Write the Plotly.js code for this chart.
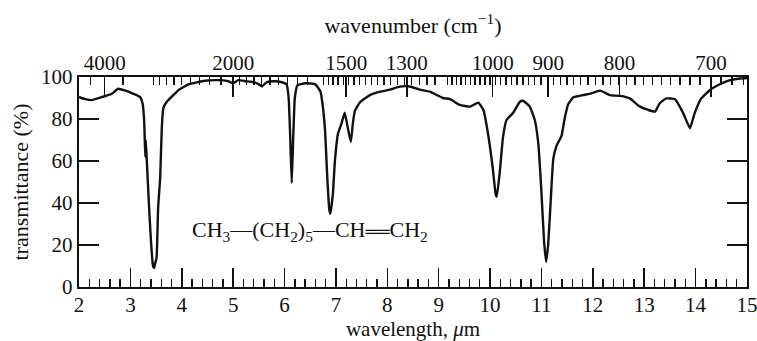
<!DOCTYPE html>
<html>
<head>
<meta charset="utf-8">
<script src="https://cdn.plot.ly/plotly-3.0.1.min.js"></script>
<style>
  html, body { margin: 0; padding: 0; background: #fff; }
  #chart { width: 757px; height: 341px; }
</style>
</head>
<body>
<div id="chart"></div>
<script>
// ---- data (1-octene IR) ----
const wavelength = [2.00, 2.05, 2.12, 2.25, 2.44, 2.64, 2.76, 2.89, 3.06, 3.19, 3.24, 3.27, 3.29, 3.30, 3.32, 3.36, 3.40, 3.44, 3.46, 3.48, 3.51, 3.54, 3.58, 3.61, 3.64, 3.70, 3.80, 3.93, 4.13, 4.45, 4.70, 4.90, 5.00, 5.10, 5.25, 5.40, 5.50, 5.56, 5.65, 5.80, 5.95, 6.04, 6.08, 6.11, 6.14, 6.17, 6.20, 6.25, 6.40, 6.60, 6.70, 6.75, 6.79, 6.83, 6.87, 6.89, 6.94, 6.98, 7.04, 7.11, 7.17, 7.23, 7.29, 7.33, 7.37, 7.47, 7.66, 7.86, 8.05, 8.24, 8.44, 8.63, 8.83, 9.08, 9.22, 9.41, 9.61, 9.77, 9.87, 9.96, 10.05, 10.11, 10.13, 10.19, 10.25, 10.32, 10.45, 10.58, 10.64, 10.77, 10.87, 10.94, 11.00, 11.05, 11.09, 11.13, 11.18, 11.23, 11.29, 11.39, 11.45, 11.52, 11.62, 11.81, 11.97, 12.14, 12.33, 12.53, 12.72, 12.91, 13.08, 13.21, 13.30, 13.43, 13.60, 13.76, 13.89, 13.98, 14.11, 14.28, 14.44, 14.64, 14.86, 15.00];
const transmittance = [90.5, 90, 89.5, 89, 90.4, 92, 94.4, 93.6, 92, 90.4, 87, 78, 62, 70, 60, 40, 22, 10, 9, 11, 14, 38, 52, 75, 85, 88, 90.5, 93.6, 96.5, 98.2, 98.5, 98, 97, 98.5, 98, 97.5, 96.5, 95.5, 97.5, 98, 97.5, 96.5, 90, 72, 49.5, 72, 90, 96, 97, 96.5, 93, 85, 74, 53, 37, 35, 44, 60, 73, 78, 83, 76, 69, 78, 84, 88, 91.4, 93, 94, 95.4, 95.5, 94, 93, 90, 89.5, 86.7, 85.9, 87.8, 84.3, 73, 57, 44, 43, 55, 71, 79.5, 83, 88.2, 88.7, 86, 79.5, 68, 45, 22, 12, 20, 41, 61, 67, 72, 80, 87, 90.3, 91.4, 92.2, 93.5, 91.4, 91, 89.8, 86, 84.3, 83.5, 87.5, 89.8, 89.4, 82.7, 75.6, 82.7, 89.8, 93.8, 96.2, 98.3, 99.3, 99.5];

// bottom axis (wavelength, µm)
const wlTicks = [2, 3, 4, 5, 6, 7, 8, 9, 10, 11, 12, 13, 14, 15];
// left axis (transmittance, %)
const tTicks = [0, 20, 40, 60, 80, 100];
// top axis labels (wavenumber, cm^-1) and where they sit on the µm scale in the picture
const topTickText = ["4000", "2000", "1500", "1300", "1000", "900", "800", "700"];
const topTickPos = [2.5, 5.0, 7.2, 8.38, 10.05, 11.13, 12.52, 14.3];

// minor wavenumber ticks (cm^-1), converted to µm
const minorWn = [];
[4500, 3500].forEach(v => minorWn.push(v));
for (let v = 2900; v >= 2100; v -= 100) minorWn.push(v);
for (let v = 1950; v >= 1550; v -= 50) minorWn.push(v);
for (let v = 1480; v >= 1120; v -= 20) minorWn.push(v);
for (let v = 1090; v >= 670; v -= 10) minorWn.push(v);
const minorTopPos = minorWn.map(w => 10000 / w);

const FONT = "Liberation Serif, Times New Roman, serif";
const INK = "#111";

const traces = [
  {
    x: wavelength, y: transmittance, type: "scatter", mode: "lines",
    line: { color: INK, width: 2.4, shape: "spline", smoothing: 0.4 },
    hoverinfo: "skip", xaxis: "x", yaxis: "y"
  },
  {
    // carrier for the top (wavenumber) axis
    x: wavelength, y: transmittance, type: "scatter", mode: "lines",
    line: { width: 0 }, opacity: 0, hoverinfo: "skip", showlegend: false,
    xaxis: "x2", yaxis: "y"
  }
];

const layout = {
  width: 757, height: 341,
  margin: { l: 79, r: 10, t: 77, b: 54 },
  paper_bgcolor: "#fff", plot_bgcolor: "#fff",
  showlegend: false,
  font: { family: FONT, size: 21, color: INK },
  xaxis: {
    range: [2, 15], tickmode: "array", tickvals: wlTicks,
    ticks: "inside", ticklen: 19, tickwidth: 1.6, tickcolor: INK,
    minor: { dtick: 0.2, ticks: "inside", ticklen: 8, tickwidth: 1.4, tickcolor: INK, showgrid: false },
    showline: true, linewidth: 2.2, linecolor: INK, mirror: false,
    showgrid: false, zeroline: false, fixedrange: true,
    ticklabeloverflow: "allow",
    ticklabelstandoff: -2,
    tickfont: { family: FONT, size: 21, color: INK },
    title: { text: "wavelength, <i>μ</i>m", font: { family: FONT, size: 21, color: INK }, standoff: 14 }
  },
  xaxis2: {
    overlaying: "x", side: "top", range: [2, 15],
    tickmode: "array", tickvals: topTickPos, ticktext: topTickText,
    ticks: "inside", ticklen: 20, tickwidth: 1.6, tickcolor: INK,
    minor: { tickmode: "array", tickvals: minorTopPos, ticks: "inside", ticklen: 8, tickwidth: 1.3, tickcolor: INK, showgrid: false },
    showline: true, linewidth: 2.2, linecolor: INK,
    showgrid: false, zeroline: false, fixedrange: true,
    ticklabeloverflow: "allow",
    ticklabelstandoff: -4,
    tickfont: { family: FONT, size: 21, color: INK },
    title: { text: "wavenumber (cm<sup>−1</sup>)", font: { family: FONT, size: 22, color: INK }, standoff: 12 }
  },
  yaxis: {
    range: [0, 100], tickmode: "array", tickvals: tTicks,
    ticks: "inside", ticklen: 20, tickwidth: 1.6, tickcolor: INK,
    showline: true, linewidth: 2.2, linecolor: INK, mirror: "ticks",
    showgrid: false, zeroline: false, fixedrange: true,
    tickfont: { family: FONT, size: 21, color: INK },
    title: { text: "transmittance (%)", font: { family: FONT, size: 22, color: INK }, standoff: 6 }
  },
  annotations: [
    {
      text: "CH<sub>3</sub>—(CH<sub>2</sub>)<sub>5</sub>—CH<span style=\"font-size:17px\">══</span>CH<sub>2</sub>",
      x: 6.49, y: 26.7, xref: "x", yref: "y", showarrow: false,
      xanchor: "center", yanchor: "middle",
      font: { family: FONT, size: 22, color: INK }
    }
  ]
};

Plotly.newPlot("chart", traces, layout, { staticPlot: true, displayModeBar: false });
</script>
</body>
</html>
